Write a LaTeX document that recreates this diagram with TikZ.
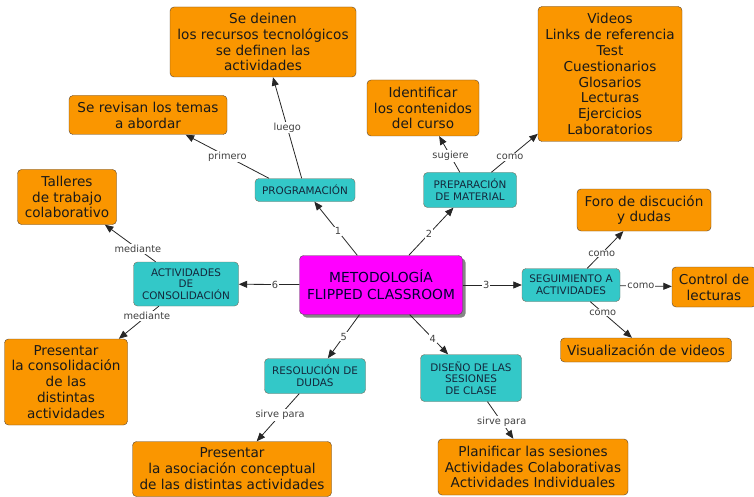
\documentclass[tikz,border=0pt]{standalone}
\usepackage{fontspec}
\setmainfont{DejaVu Sans}
\usetikzlibrary{arrows.meta,shadows}

\definecolor{naranja}{RGB}{250,150,0}
\definecolor{turquesa}{RGB}{51,200,200}
\definecolor{rosa}{RGB}{255,0,255}
\definecolor{borde}{RGB}{90,70,50}
\definecolor{textoazul}{RGB}{20,40,60}

\begin{document}
\begin{tikzpicture}[x=1pt,y=-1pt,
        concepto/.style={draw=borde, fill=naranja, rounded corners=4pt, align=center, inner sep=0pt, text=black!90,
            font=\fontsize{13.6}{15.9}\selectfont},
        tema/.style={draw=borde!80, fill=turquesa, rounded corners=4pt, align=center, inner sep=0pt, text=textoazul,
            font=\fontsize{10.4}{11.7}\selectfont},
        centro/.style={draw=black!70, fill=rosa, rounded corners=4pt, align=center, inner sep=0pt, text=black!80!blue,
            font=\fontsize{13.8}{17}\selectfont, drop shadow={shadow xshift=3pt, shadow yshift=-3pt, fill=black!60, opacity=0.8}},
        enlace/.style={-{Triangle[length=8.5pt,width=7pt]}, line width=0.8pt, black!85},
        etq/.style={fill=white, inner sep=1pt, text=black!75, font=\fontsize{9.8}{11}\selectfont}]
        \useasboundingbox (0,0) rectangle (754,497);

        % nodo central
        \node[centro, minimum width=163pt, minimum height=59pt] (cen) at (381,285) {METODOLOGÍA\\FLIPPED CLASSROOM};

        % temas
        \node[tema, minimum width=100pt, minimum height=23pt] (prog) at (305,190) {PROGRAMACIÓN};
        \node[tema, minimum width=93pt, minimum height=35pt] (prep) at (470,190) {PREPARACIÓN\\DE MATERIAL};
        \node[tema, minimum width=98pt, minimum height=33pt] (seg) at (571,285) {SEGUIMIENTO A\\ACTIVIDADES};
        \node[tema, minimum width=101pt, minimum height=47pt] (dis) at (471,378) {DISEÑO DE LAS\\SESIONES\\DE CLASE};
        \node[tema, minimum width=101pt, minimum height=35pt] (res) at (315,376) {RESOLUCIÓN DE\\DUDAS};
        \node[tema, minimum width=105pt, minimum height=44pt] (act) at (186,284) {ACTIVIDADES\\DE\\CONSOLIDACIÓN};

        % conceptos
        \node[concepto, minimum width=186pt, minimum height=70pt] (deinen) at (263,42) {Se deinen\\los recursos tecnológicos\\se definen las\\actividades};
        \node[concepto, minimum width=158pt, minimum height=39pt] (revisan) at (148,115) {Se revisan los temas\\a abordar};
        \node[concepto, minimum width=99pt, minimum height=55pt] (talleres) at (67,197) {Talleres\\de trabajo\\colaborativo};
        \node[concepto, minimum width=112pt, minimum height=56pt] (ident) at (423,108) {Identificar\\los contenidos\\del curso};
        \node[concepto, minimum width=144pt, minimum height=135pt] (videos) at (610,74) {Videos\\Links de referencia\\Test\\Cuestionarios\\Glosarios\\Lecturas\\Ejercicios\\Laboratorios};
        \node[concepto, minimum width=134pt, minimum height=42pt] (foro) at (644,210) {Foro de discución\\y dudas};
        \node[concepto, minimum width=84pt, minimum height=40pt] (control) at (714,287) {Control de\\lecturas};
        \node[concepto, minimum width=171pt, minimum height=24pt] (visual) at (646,350) {Visualización de videos};
        \node[concepto, minimum width=190pt, minimum height=56pt] (plan) at (533,467) {Planificar las sesiones\\Actividades Colaborativas\\Actividades Individuales};
        \node[concepto, minimum width=199pt, minimum height=55pt] (asoc) at (232,469) {Presentar\\la asociación conceptual\\de las distintas actividades};
        \node[concepto, minimum width=123pt, minimum height=86pt] (cons) at (66,382) {Presentar\\la consolidación\\de las\\distintas\\actividades};

        % enlaces
        \draw[enlace] (cen) -- node[etq, pos=0.45] {1} (prog);
        \draw[enlace] (cen) -- node[etq, pos=0.45] {2} (prep);
        \draw[enlace] (cen) -- node[etq, pos=0.4] {3} (seg);
        \draw[enlace] (cen) -- node[etq, pos=0.6] {4} (dis);
        \draw[enlace] (cen) -- node[etq, pos=0.5] {5} (res);
        \draw[enlace] (cen) -- node[etq, pos=0.4] {6} (act);

        \draw[enlace] (prog.162) -- node[etq, pos=0.5] {primero} (revisan);
        \draw[enlace] (prog) -- node[etq, pos=0.5] {luego} (deinen);
        \draw[enlace] (prep) -- node[etq, pos=0.45] {sugiere} (ident);
        \draw[enlace] (prep) -- node[etq, pos=0.4] {como} (videos);
        \draw[enlace] (seg) -- node[etq, pos=0.4] {como} (foro);
        \draw[enlace] (seg) -- node[etq, pos=0.4] {como} (control);
        \draw[enlace] (seg) -- node[etq, pos=0.3] {como} (visual);
        \draw[enlace] (dis) -- node[etq, pos=0.55] {sirve para} (plan);
        \draw[enlace] (res) -- node[etq, pos=0.45] {sirve para} (asoc);
        \draw[enlace] (act) -- node[etq, pos=0.35] {mediante} (talleres);
        \draw[enlace] (act) -- node[etq, pos=0.3] {mediante} (cons);
\end{tikzpicture}
\end{document}
